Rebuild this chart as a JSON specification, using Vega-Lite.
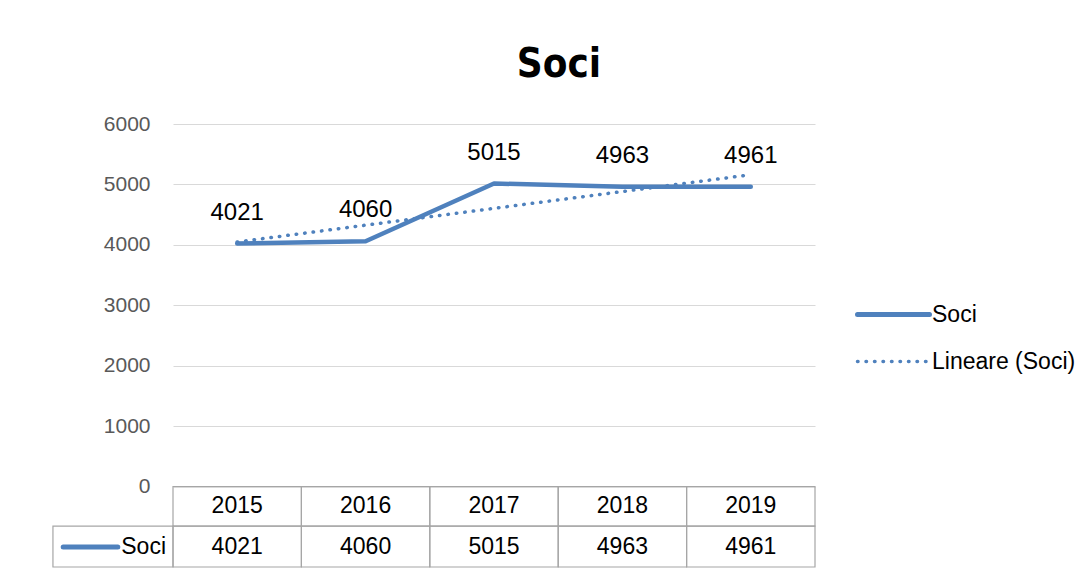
{
  "$schema": "https://vega.github.io/schema/vega-lite/v6.json",
  "width": 642,
  "height": 443,
  "autosize": {"type": "pad"},
  "padding": {"left": 52, "top": 45, "right": 10, "bottom": 0},
  "background": "white",
  "config": {"view": {"stroke": null}, "font": "Liberation Sans"},
  "title": {"text": "Soci", "fontSize": 40, "font": "Liberation Sans Narrow, DejaVu Sans Condensed, Liberation Sans", "fontWeight": "bold", "color": "black", "anchor": "middle", "dx": 65, "offset": 28},
  "data": {"values": [
    {"year": 2015, "soci": 4021},
    {"year": 2016, "soci": 4060},
    {"year": 2017, "soci": 5015},
    {"year": 2018, "soci": 4963},
    {"year": 2019, "soci": 4961}
  ]},
  "layer": [
    {
      "mark": {"type": "line", "strokeWidth": 4.5, "strokeCap": "round", "strokeJoin": "round"},
      "encoding": {
        "x": {"field": "year", "type": "quantitative", "scale": {"domain": [2014.5, 2019.5], "nice": false, "zero": false}, "axis": null},
        "y": {"field": "soci", "type": "quantitative", "scale": {"domain": [-1332, 6000], "nice": false, "zero": false},
          "axis": {"values": [0, 1000, 2000, 3000, 4000, 5000, 6000], "format": "d", "title": null, "domain": false, "ticks": false, "labelPadding": 23, "labelFontSize": 21, "labelColor": "#595959", "labelFont": "Liberation Sans", "gridColor": "#D9D9D9", "gridWidth": 1.2}},
        "color": {"datum": "Soci", "type": "nominal", "scale": {"domain": ["Soci", "Lineare (Soci)"], "range": ["#4F81BD", "#4F81BD"]},
          "legend": {"title": null, "orient": "none", "legendX": 709, "legendY": 179, "symbolType": "stroke", "symbolSize": 5184, "symbolStrokeWidth": 5, "labelFontSize": 23, "labelColor": "black", "labelFont": "Liberation Sans", "labelOffset": 27, "rowPadding": 23,
            "encode": {"symbols": {"update": {"size": {"value": 5184}, "strokeDash": {"signal": "datum.value === 'Soci' ? [1, 0] : [0.5, 8]"}, "strokeWidth": {"signal": "datum.value === 'Soci' ? 5 : 3.5"}, "strokeCap": {"value": "round"}}}}}}
      }
    },
    {
      "transform": [{"regression": "soci", "on": "year"}],
      "mark": {"type": "line", "strokeWidth": 3.5, "strokeCap": "round", "strokeDash": [0.5, 8]},
      "encoding": {
        "x": {"field": "year", "type": "quantitative"},
        "y": {"field": "soci", "type": "quantitative"},
        "color": {"datum": "Lineare (Soci)", "type": "nominal"}
      }
    },
    {
      "mark": {"type": "text", "dy": -31, "fontSize": 24, "color": "black", "baseline": "middle"},
      "encoding": {
        "x": {"field": "year", "type": "quantitative"},
        "y": {"field": "soci", "type": "quantitative"},
        "text": {"field": "soci", "type": "quantitative", "format": "d"}
      }
    },
    {
      "mark": {"type": "rect", "width": 128.4, "fill": "transparent", "stroke": "#A6A6A6", "strokeWidth": 1.2},
      "encoding": {
        "x": {"field": "year", "type": "quantitative"},
        "y": {"datum": 0},
        "y2": {"datum": -654}
      }
    },
    {
      "mark": {"type": "rect", "width": 128.4, "fill": "transparent", "stroke": "#A6A6A6", "strokeWidth": 1.2},
      "encoding": {
        "x": {"field": "year", "type": "quantitative"},
        "y": {"datum": -654},
        "y2": {"datum": -1332}
      }
    },
    {
      "mark": {"type": "text", "fontSize": 23, "color": "black", "baseline": "middle"},
      "encoding": {
        "x": {"field": "year", "type": "quantitative"},
        "y": {"datum": -323},
        "text": {"field": "year", "type": "nominal"}
      }
    },
    {
      "mark": {"type": "text", "fontSize": 23, "color": "black", "baseline": "middle"},
      "encoding": {
        "x": {"field": "year", "type": "quantitative"},
        "y": {"datum": -1001},
        "text": {"field": "soci", "type": "quantitative", "format": "d"}
      }
    },
    {
      "data": {"values": [{"label": "Soci"}]},
      "mark": {"type": "rect", "fill": "transparent", "stroke": "#A6A6A6", "strokeWidth": 1.2},
      "encoding": {
        "x": {"datum": 2013.565},
        "x2": {"datum": 2014.5},
        "y": {"datum": -654},
        "y2": {"datum": -1332}
      }
    },
    {
      "data": {"values": [{"label": "Soci"}]},
      "mark": {"type": "rule", "color": "#4F81BD", "strokeWidth": 5, "strokeCap": "round"},
      "encoding": {
        "x": {"datum": 2013.645},
        "x2": {"datum": 2014.07},
        "y": {"datum": -1001}
      }
    },
    {
      "data": {"values": [{"label": "Soci"}]},
      "mark": {"type": "text", "align": "right", "baseline": "middle", "dx": -7, "fontSize": 23, "color": "black"},
      "encoding": {
        "x": {"datum": 2014.5},
        "y": {"datum": -1001},
        "text": {"field": "label", "type": "nominal"}
      }
    }
  ]
}
